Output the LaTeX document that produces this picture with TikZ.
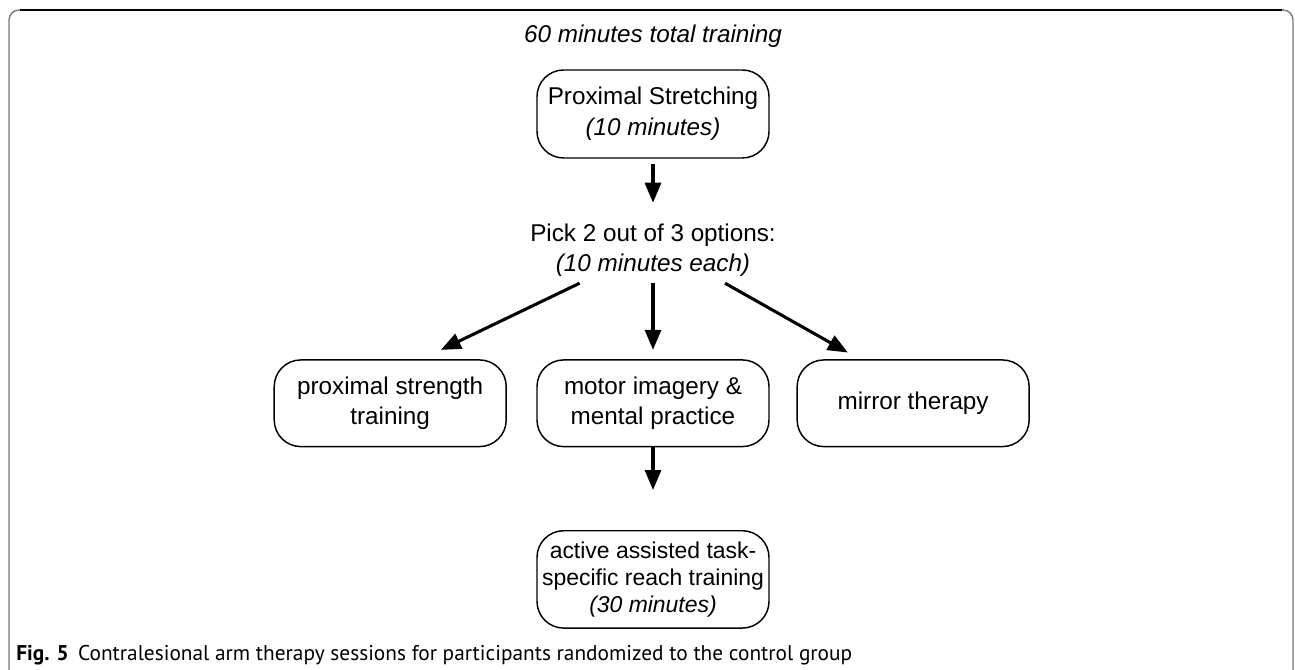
\documentclass[tikz,border=0pt]{standalone}
\usepackage{fontspec}
\setmainfont{Liberation Sans}
\newfontfamily\capfont{PT Sans}
\usepackage{tikz}
\usetikzlibrary{positioning,arrows.meta}
\definecolor{framegray}{RGB}{120,120,120}

\begin{document}
\begin{tikzpicture}[
            x=0.75pt, y=0.75pt,
            node distance=20pt,
            box/.style={rectangle, draw=black, line width=1.1pt, rounded corners=20pt,
                       align=center, minimum width=174pt, minimum height=65pt,
                       inner sep=1pt, font=\fontsize{18.2}{23}\selectfont},
            optext/.style={align=center, inner sep=0pt, font=\fontsize{18.2}{22}\selectfont},
            arrow/.style={-{Triangle[length=15pt,width=12pt]}, line width=2.3pt}
        ]
            \useasboundingbox (0,0) rectangle (1295,670);
            % Rahmen
            \draw[framegray, line width=1pt, rounded corners=7.5pt]
                (9,-5) -- (9,660) -- (1293,660) -- (1293,-5);
            \draw[black, line width=1pt] (20,660) -- (1282,660);

            % Dehnung
            \node[optext] (total) at (653,634) {\textit{60 minutes total training}};
            \node[box, minimum height=66pt] (stretch) at (653,556) {Proximal Stretching\\\textit{(10 minutes)}};

            % Auswahl
            \node[optext, below=49pt of stretch] (pick) {Pick 2 out of 3 options:\\\textit{(10 minutes each)}};

            \node[box, below=62pt of pick] (motor) {motor imagery \&\\mental practice};
            \node[box, left=22pt of motor] (strength) {proximal strength\\training};
            \node[box, right=20pt of motor] (mirror) {mirror therapy};

            % Reichweite
            \node[box, below=62pt of motor, minimum height=73pt, font=\fontsize{17.2}{20}\selectfont] (reach)
                {active assisted task-\\specific reach training\\\textit{(30 minutes)}};

            \draw[arrow, shorten <=4pt, shorten >=16pt] (stretch) -- (pick);
            \draw[arrow, shorten <=5pt, shorten >=7pt] (pick) -- (motor);
            \draw[arrow] ([xshift=-55pt, yshift=-5pt]pick.south) -- ([xshift=38pt, yshift=7pt]strength.north);
            \draw[arrow] ([xshift=54pt, yshift=-5pt]pick.south) -- ([xshift=-49pt, yshift=5pt]mirror.north);
            \draw[arrow, shorten >=30pt] (motor) -- (reach);

            % Bildunterschrift
            \node[anchor=base west, inner sep=0pt, font=\capfont\fontsize{16}{19}\selectfont] (caption) at (16,9)
                {\textbf{Fig. 5}\hspace{7pt}Contralesional arm therapy sessions for participants randomized to the control group};
        \end{tikzpicture}
\end{document}
